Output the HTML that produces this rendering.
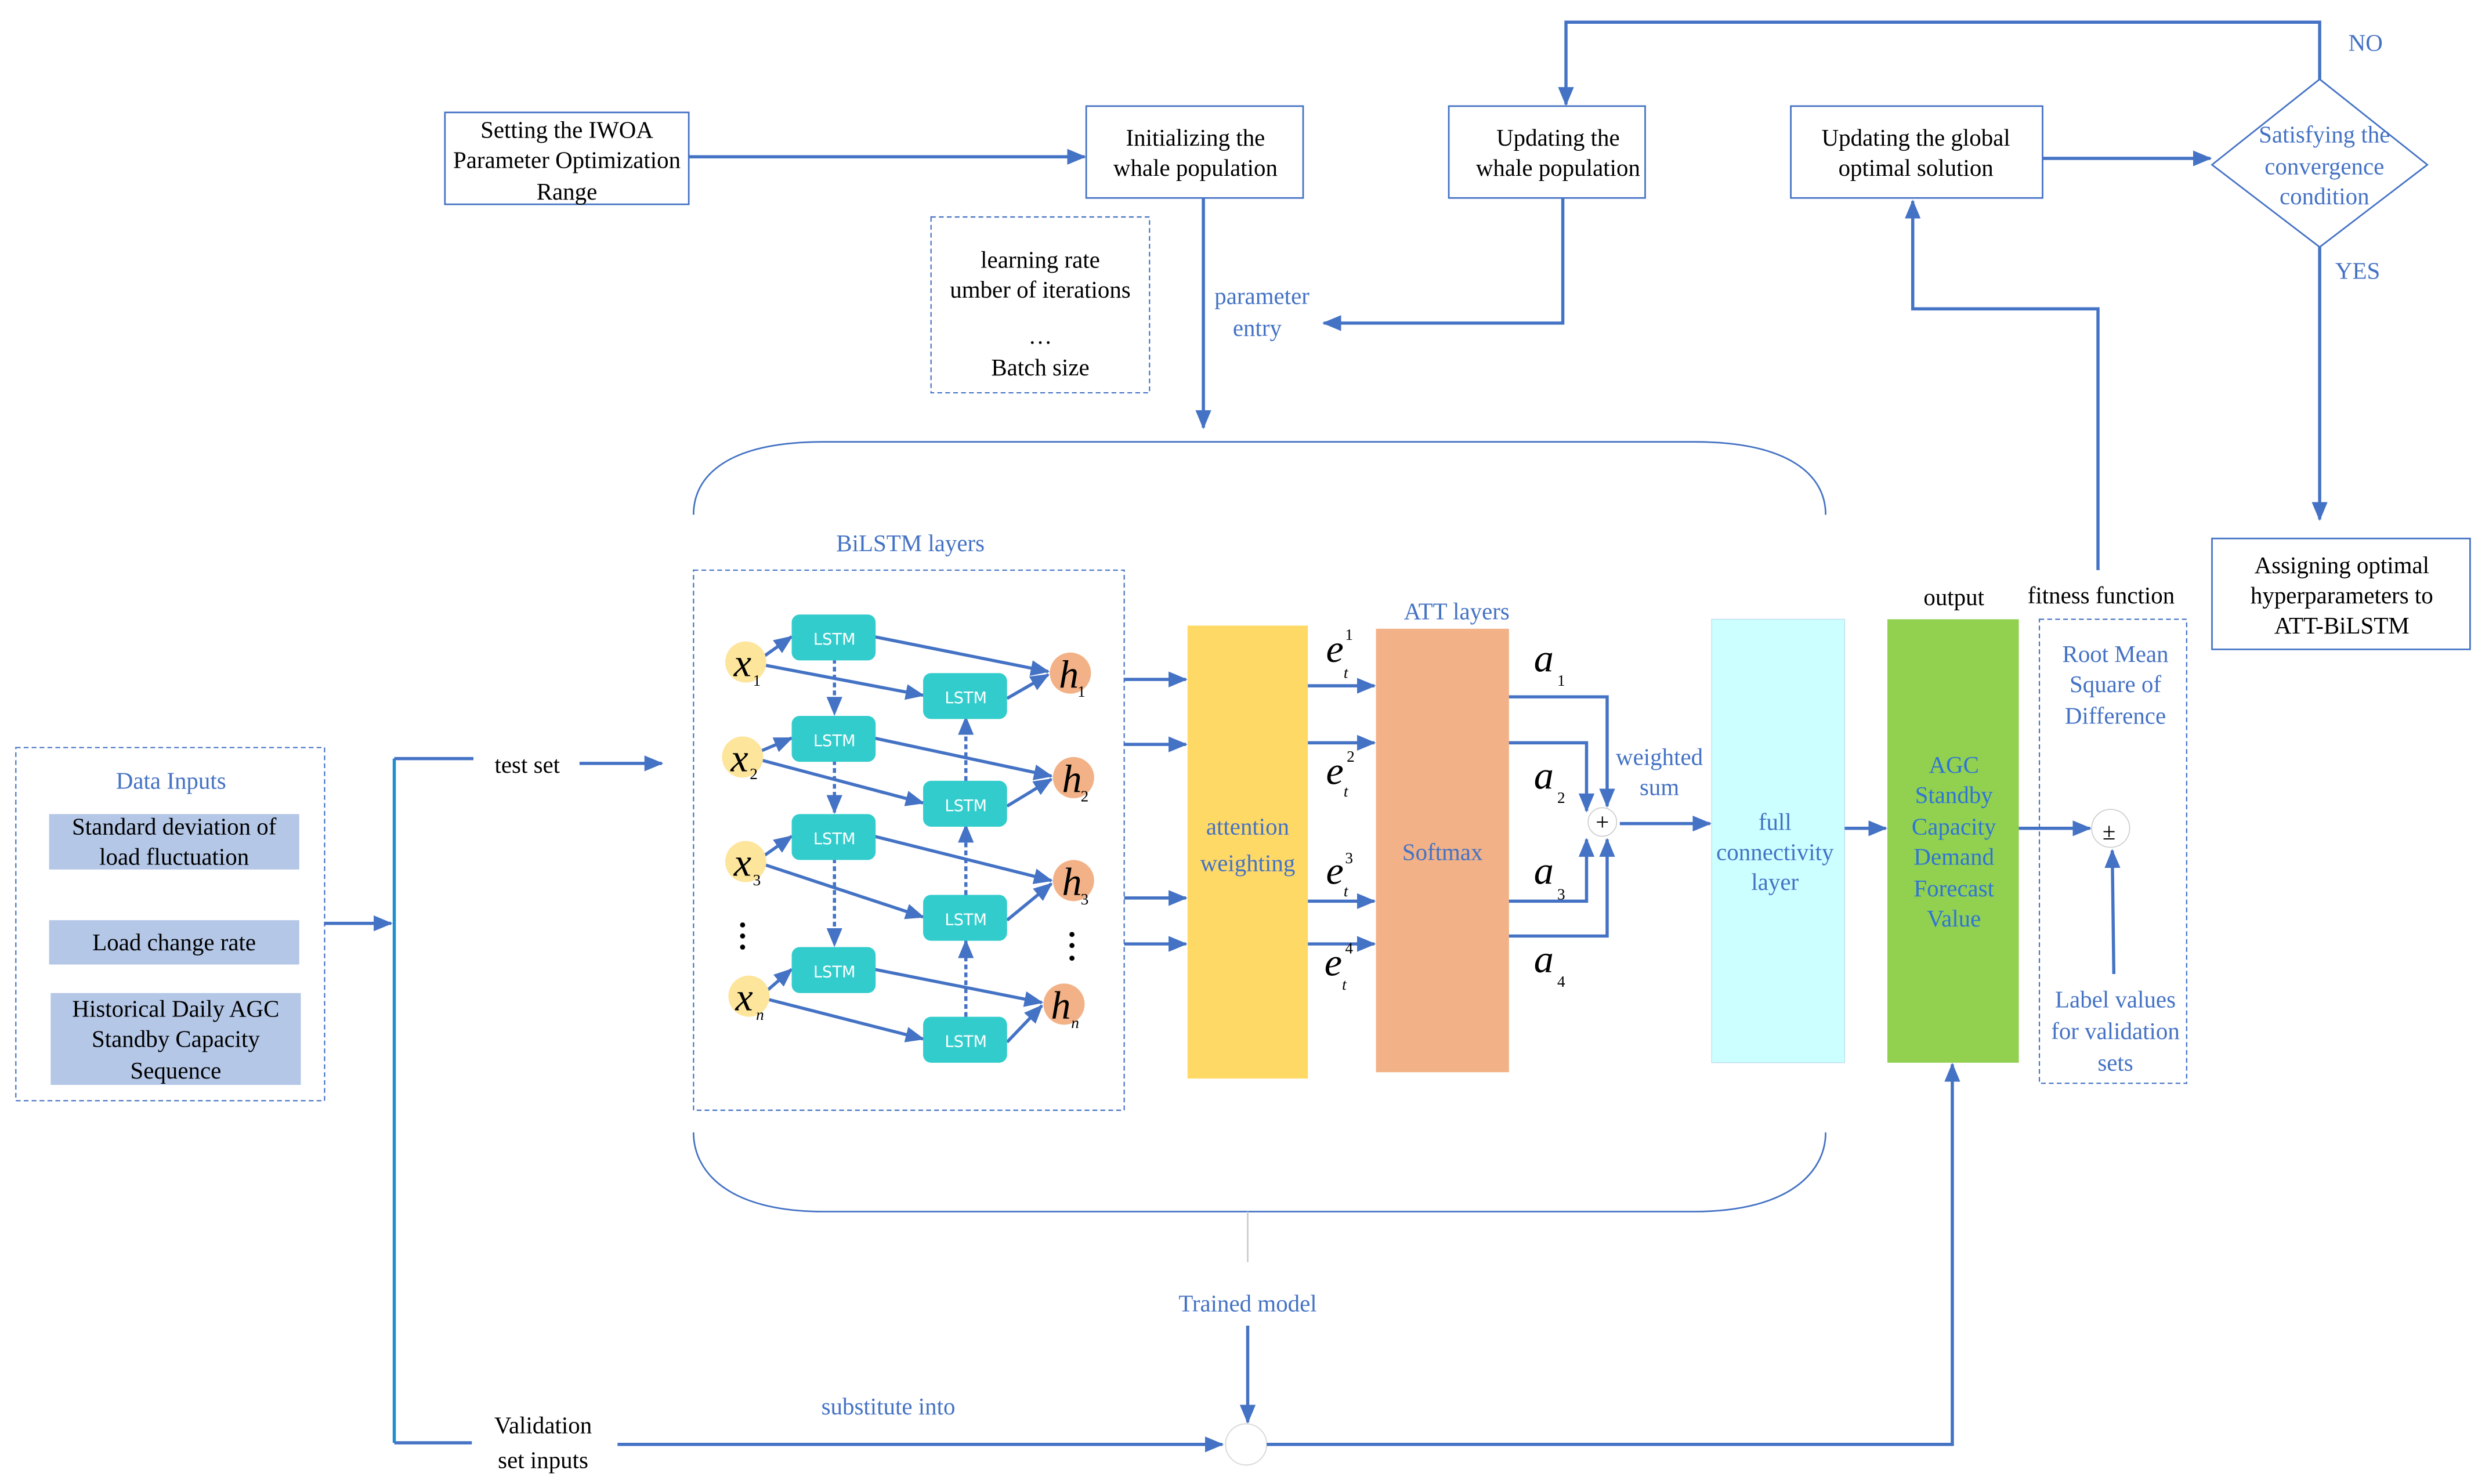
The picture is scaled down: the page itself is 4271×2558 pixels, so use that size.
<!DOCTYPE html>
<html><head><meta charset="utf-8"><style>
html,body{margin:0;padding:0;background:#fff;}
svg{display:block;}
text{font-family:"Liberation Serif","DejaVu Serif",serif;font-size:15px;text-anchor:middle;fill:#000;}
text.b{fill:#4472C4;}
text.g{fill:#2E75D6;}
.ln{stroke:#4472C4;stroke-width:2;fill:none;}
.th{stroke:#4472C4;stroke-width:1;fill:none;}
.ds{stroke:#4472C4;stroke-width:0.8;fill:none;stroke-dasharray:3,2;}
.lstm{fill:#33CCCC;}
text.lt{font-family:"DejaVu Sans",sans-serif;font-size:10px;fill:#fff;}
text.it{font-style:italic;font-size:25px;}
text.sub{font-size:10px;}
</style></head><body>
<svg width="4271" height="2558" viewBox="0 0 1565 937" preserveAspectRatio="none" xmlns="http://www.w3.org/2000/svg" font-family="Liberation Serif, serif">
<defs>
<marker id="a" markerUnits="userSpaceOnUse" markerWidth="12" markerHeight="10" refX="11" refY="5" orient="auto"><path d="M0,0 L12,5 L0,10 Z" fill="#4472C4"/></marker>
</defs>

<rect x="281" y="71" width="154" height="58" class="th"/>
<text x="358" y="87">Setting the IWOA</text>
<text x="358" y="106">Parameter Optimization</text>
<text x="358" y="126">Range</text>
<line x1="435" y1="99" x2="685" y2="99" class="ln" marker-end="url(#a)"/>
<rect x="686" y="67" width="137" height="58" class="th"/>
<text x="755" y="92">Initializing the</text>
<text x="755" y="111">whale population</text>
<rect x="915" y="67" width="124" height="58" class="th"/>
<text x="984" y="92">Updating the</text>
<text x="984" y="111">whale population</text>
<rect x="1131" y="67" width="159" height="58" class="th"/>
<text x="1210" y="92">Updating the global</text>
<text x="1210" y="111">optimal solution</text>
<line x1="1290" y1="100" x2="1396" y2="100" class="ln" marker-end="url(#a)"/>
<polygon points="1465,50 1533,104 1465,156 1397,104" class="th" stroke-width="0.6"/>
<text x="1468" y="90" class="b">Satisfying the</text>
<text x="1468" y="110" class="b">convergence</text>
<text x="1468" y="129" class="b">condition</text>
<polyline points="1465,50 1465,14 989,14 989,66" class="ln" marker-end="url(#a)"/>
<text x="1494" y="32" class="b" font-size="17">NO</text>
<line x1="1465" y1="156" x2="1465" y2="328" class="ln" marker-end="url(#a)"/>
<text x="1489" y="176" class="b" font-size="17">YES</text>
<rect x="1397" y="340" width="163" height="70" class="th"/>
<text x="1479" y="362">Assigning optimal</text>
<text x="1479" y="381">hyperparameters to</text>
<text x="1479" y="400">ATT-BiLSTM</text>

<rect x="588" y="137" width="138" height="111" class="ds"/>
<text x="657" y="169">learning rate</text>
<text x="657" y="188">umber of iterations</text>
<text x="657" y="217">…</text>
<text x="657" y="237">Batch size</text>
<line x1="760" y1="125" x2="760" y2="270" class="ln" marker-end="url(#a)"/>
<text x="797" y="192" class="b" font-size="14">parameter</text>
<text x="794" y="212" class="b" font-size="14">entry</text>
<polyline points="987,125 987,204 836,204" class="ln" marker-end="url(#a)"/>

<path d="M438,325 C438,300 460,279 520,279 L1070,279 C1130,279 1153,300 1153,325" class="th" stroke-width="0.7"/>
<path d="M438,715 C438,740 460,765 520,765 L1070,765 C1130,765 1153,740 1153,715" class="th" stroke-width="0.7"/>
<line x1="788" y1="765" x2="788" y2="797" stroke="#ccc" stroke-width="1"/>
<text x="788" y="828" class="b" font-size="17">Trained model</text>
<line x1="788" y1="837" x2="788" y2="898" class="ln" marker-end="url(#a)"/>
<circle cx="787" cy="912" r="13" fill="#fff" stroke="#ddd" stroke-width="0.8"/>

<text x="575" y="348" class="b" font-size="17">BiLSTM layers</text>
<rect x="438" y="360" width="272" height="341" class="ds"/>
<g class="ln" stroke-width="1.6">
<line x1="527" y1="416" x2="527" y2="451" stroke-dasharray="3,2" marker-end="url(#a)"/>
<line x1="527" y1="480" x2="527" y2="513" stroke-dasharray="3,2" marker-end="url(#a)"/>
<line x1="527" y1="542" x2="527" y2="597" stroke-dasharray="3,2" marker-end="url(#a)"/>
<line x1="610" y1="642" x2="610" y2="594" stroke-dasharray="3,2" marker-end="url(#a)"/>
<line x1="610" y1="565" x2="610" y2="521" stroke-dasharray="3,2" marker-end="url(#a)"/>
<line x1="610" y1="493" x2="610" y2="453" stroke-dasharray="3,2" marker-end="url(#a)"/>
<line x1="483" y1="414" x2="500" y2="402" marker-end="url(#a)"/>
<line x1="483" y1="420" x2="583" y2="439" marker-end="url(#a)"/>
<line x1="481" y1="474" x2="500" y2="466" marker-end="url(#a)"/>
<line x1="481" y1="480" x2="583" y2="507" marker-end="url(#a)"/>
<line x1="483" y1="540" x2="500" y2="528" marker-end="url(#a)"/>
<line x1="483" y1="546" x2="583" y2="579" marker-end="url(#a)"/>
<line x1="485" y1="625" x2="500" y2="612" marker-end="url(#a)"/>
<line x1="485" y1="631" x2="583" y2="656" marker-end="url(#a)"/>
<line x1="552" y1="402" x2="662" y2="424" marker-end="url(#a)"/>
<line x1="636" y1="441" x2="662" y2="426" marker-end="url(#a)"/>
<line x1="552" y1="466" x2="664" y2="490" marker-end="url(#a)"/>
<line x1="636" y1="509" x2="664" y2="492" marker-end="url(#a)"/>
<line x1="552" y1="528" x2="664" y2="556" marker-end="url(#a)"/>
<line x1="636" y1="581" x2="664" y2="558" marker-end="url(#a)"/>
<line x1="552" y1="612" x2="658" y2="633" marker-end="url(#a)"/>
<line x1="636" y1="658" x2="658" y2="635" marker-end="url(#a)"/>
</g>
<g>
<rect x="500" y="388" width="53" height="29" rx="5" class="lstm"/><text x="527" y="407" class="lt">LSTM</text>
<rect x="500" y="452" width="53" height="29" rx="5" class="lstm"/><text x="527" y="471" class="lt">LSTM</text>
<rect x="500" y="514" width="53" height="29" rx="5" class="lstm"/><text x="527" y="533" class="lt">LSTM</text>
<rect x="500" y="598" width="53" height="29" rx="5" class="lstm"/><text x="527" y="617" class="lt">LSTM</text>
<rect x="583" y="425" width="53" height="29" rx="5" class="lstm"/><text x="610" y="444" class="lt">LSTM</text>
<rect x="583" y="493" width="53" height="29" rx="5" class="lstm"/><text x="610" y="512" class="lt">LSTM</text>
<rect x="583" y="565" width="53" height="29" rx="5" class="lstm"/><text x="610" y="584" class="lt">LSTM</text>
<rect x="583" y="642" width="53" height="29" rx="5" class="lstm"/><text x="610" y="661" class="lt">LSTM</text>
</g>
<g fill="#FDE59C">
<circle cx="471" cy="418" r="13"/><circle cx="469" cy="478" r="13"/><circle cx="471" cy="544" r="13"/><circle cx="473" cy="629" r="13"/>
</g>
<g fill="#F2B186">
<circle cx="676" cy="425" r="13"/><circle cx="678" cy="491" r="13"/><circle cx="678" cy="556" r="13"/><circle cx="672" cy="634" r="13"/>
</g>
<text x="469" y="427" class="it">x</text><text x="478" y="433" class="sub">1</text>
<text x="467" y="487" class="it">x</text><text x="476" y="492" class="sub">2</text>
<text x="469" y="553" class="it">x</text><text x="478" y="559" class="sub">3</text>
<text x="470" y="638" class="it">x</text><text x="480" y="644" class="sub" font-style="italic">n</text>
<text x="675" y="434" class="it">h</text><text x="683" y="440" class="sub">1</text>
<text x="677" y="500" class="it">h</text><text x="685" y="506" class="sub">2</text>
<text x="677" y="565" class="it">h</text><text x="685" y="571" class="sub">3</text>
<text x="670" y="643" class="it">h</text><text x="679" y="649" class="sub" font-style="italic">n</text>
<g fill="#000"><circle cx="469" cy="584" r="1.6"/><circle cx="469" cy="591" r="1.6"/><circle cx="469" cy="598" r="1.6"/>
<circle cx="677" cy="590" r="1.6"/><circle cx="677" cy="597" r="1.6"/><circle cx="677" cy="605" r="1.6"/></g>

<g class="ln">
<line x1="710" y1="429" x2="749" y2="429" marker-end="url(#a)"/>
<line x1="710" y1="470" x2="749" y2="470" marker-end="url(#a)"/>
<line x1="710" y1="567" x2="749" y2="567" marker-end="url(#a)"/>
<line x1="710" y1="596" x2="749" y2="596" marker-end="url(#a)"/>
</g>
<rect x="750" y="395" width="76" height="286" fill="#FFD966"/>
<text x="788" y="527" class="b" font-size="17">attention</text>
<text x="788" y="550" class="b" font-size="17">weighting</text>

<text x="920" y="391" class="b" font-size="17">ATT layers</text>
<g class="ln">
<line x1="826" y1="433" x2="868" y2="433" marker-end="url(#a)"/>
<line x1="826" y1="469" x2="868" y2="469" marker-end="url(#a)"/>
<line x1="826" y1="569" x2="868" y2="569" marker-end="url(#a)"/>
<line x1="826" y1="596" x2="868" y2="596" marker-end="url(#a)"/>
</g>
<g>
<text x="843" y="418" class="it">e</text><text x="852" y="404" class="sub">1</text><text x="850" y="428" class="sub" font-style="italic">t</text>
<text x="843" y="495" class="it">e</text><text x="853" y="481" class="sub">2</text><text x="850" y="503" class="sub" font-style="italic">t</text>
<text x="843" y="558" class="it">e</text><text x="852" y="545" class="sub">3</text><text x="850" y="566" class="sub" font-style="italic">t</text>
<text x="842" y="616" class="it">e</text><text x="852" y="602" class="sub">4</text><text x="849" y="625" class="sub" font-style="italic">t</text>
</g>
<rect x="869" y="397" width="84" height="280" fill="#F2B186"/>
<text x="911" y="543" class="b" font-size="17">Softmax</text>
<g>
<text x="975" y="424" class="it">a</text><text x="986" y="433" class="sub">1</text>
<text x="975" y="498" class="it">a</text><text x="986" y="507" class="sub">2</text>
<text x="975" y="558" class="it">a</text><text x="986" y="568" class="sub">3</text>
<text x="975" y="614" class="it">a</text><text x="986" y="623" class="sub">4</text>
</g>
<g class="ln">
<polyline points="953,440 1015,440 1015,509" marker-end="url(#a)"/>
<polyline points="953,469 1002,469 1002,512" marker-end="url(#a)"/>
<polyline points="953,569 1002,569 1002,530" marker-end="url(#a)"/>
<polyline points="953,591 1015,591 1015,530" marker-end="url(#a)"/>
<line x1="1023" y1="520" x2="1080" y2="520" marker-end="url(#a)"/>
</g>
<circle cx="1012" cy="519" r="9" fill="#fff" stroke="#ccc" stroke-width="0.6"/>
<text x="1012" y="524" font-size="13">+</text>
<text x="1048" y="483" class="b" font-size="14">weighted</text>
<text x="1048" y="502" class="b" font-size="14">sum</text>

<rect x="1081" y="391" width="84" height="280" fill="#CCFFFF" stroke="#bde" stroke-width="0.5"/>
<text x="1121" y="524" class="b">full</text>
<text x="1121" y="543" class="b">connectivity</text>
<text x="1121" y="562" class="b">layer</text>
<line x1="1165" y1="523" x2="1191" y2="523" class="ln" marker-end="url(#a)"/>
<rect x="1192" y="391" width="83" height="280" fill="#92D050"/>
<text x="1234" y="488" class="g">AGC</text>
<text x="1234" y="507" class="g">Standby</text>
<text x="1234" y="527" class="g">Capacity</text>
<text x="1234" y="546" class="g">Demand</text>
<text x="1234" y="566" class="g">Forecast</text>
<text x="1234" y="585" class="g">Value</text>
<text x="1234" y="382">output</text>
<text x="1327" y="381">fitness function</text>
<rect x="1288" y="391" width="93" height="293" class="ds"/>
<text x="1336" y="418" class="b">Root Mean</text>
<text x="1336" y="437" class="b">Square of</text>
<text x="1336" y="457" class="b">Difference</text>
<text x="1336" y="636" class="b">Label values</text>
<text x="1336" y="656" class="b">for validation</text>
<text x="1336" y="676" class="b">sets</text>
<line x1="1275" y1="523" x2="1320" y2="523" class="ln" marker-end="url(#a)"/>
<circle cx="1333" cy="523" r="12" fill="#fff" stroke="#ccc" stroke-width="0.6"/>
<text x="1332" y="530" font-size="20">±</text>
<line x1="1335" y1="615" x2="1334" y2="537" class="ln" marker-end="url(#a)"/>
<polyline points="1325,360 1325,195 1208,195 1208,127" class="ln" marker-end="url(#a)"/>

<rect x="10" y="472" width="195" height="223" class="ds"/>
<text x="108" y="498" class="b">Data Inputs</text>
<rect x="31" y="514" width="158" height="35" fill="#B4C7E7"/>
<text x="110" y="527">Standard deviation of</text>
<text x="110" y="546">load fluctuation</text>
<rect x="31" y="581" width="158" height="28" fill="#B4C7E7"/>
<text x="110" y="600">Load change rate</text>
<rect x="32" y="627" width="158" height="58" fill="#B4C7E7"/>
<text x="111" y="642">Historical Daily AGC</text>
<text x="111" y="661">Standby Capacity</text>
<text x="111" y="681">Sequence</text>
<line x1="205" y1="583" x2="247" y2="583" class="ln" marker-end="url(#a)"/>
<line x1="249" y1="479" x2="249" y2="911" stroke="#1E90D0" stroke-width="2"/>
<line x1="249" y1="479" x2="299" y2="479" class="ln"/>
<text x="333" y="488">test set</text>
<line x1="366" y1="482" x2="418" y2="482" class="ln" marker-end="url(#a)"/>
<line x1="249" y1="911" x2="298" y2="911" class="ln"/>
<text x="343" y="905" font-size="16">Validation</text>
<text x="343" y="927" font-size="16">set inputs</text>
<line x1="390" y1="912" x2="772" y2="912" class="ln" marker-end="url(#a)"/>
<text x="561" y="893" class="b">substitute into</text>
<polyline points="800,912 1233,912 1233,672" class="ln" marker-end="url(#a)"/>
</svg>
</body></html>
